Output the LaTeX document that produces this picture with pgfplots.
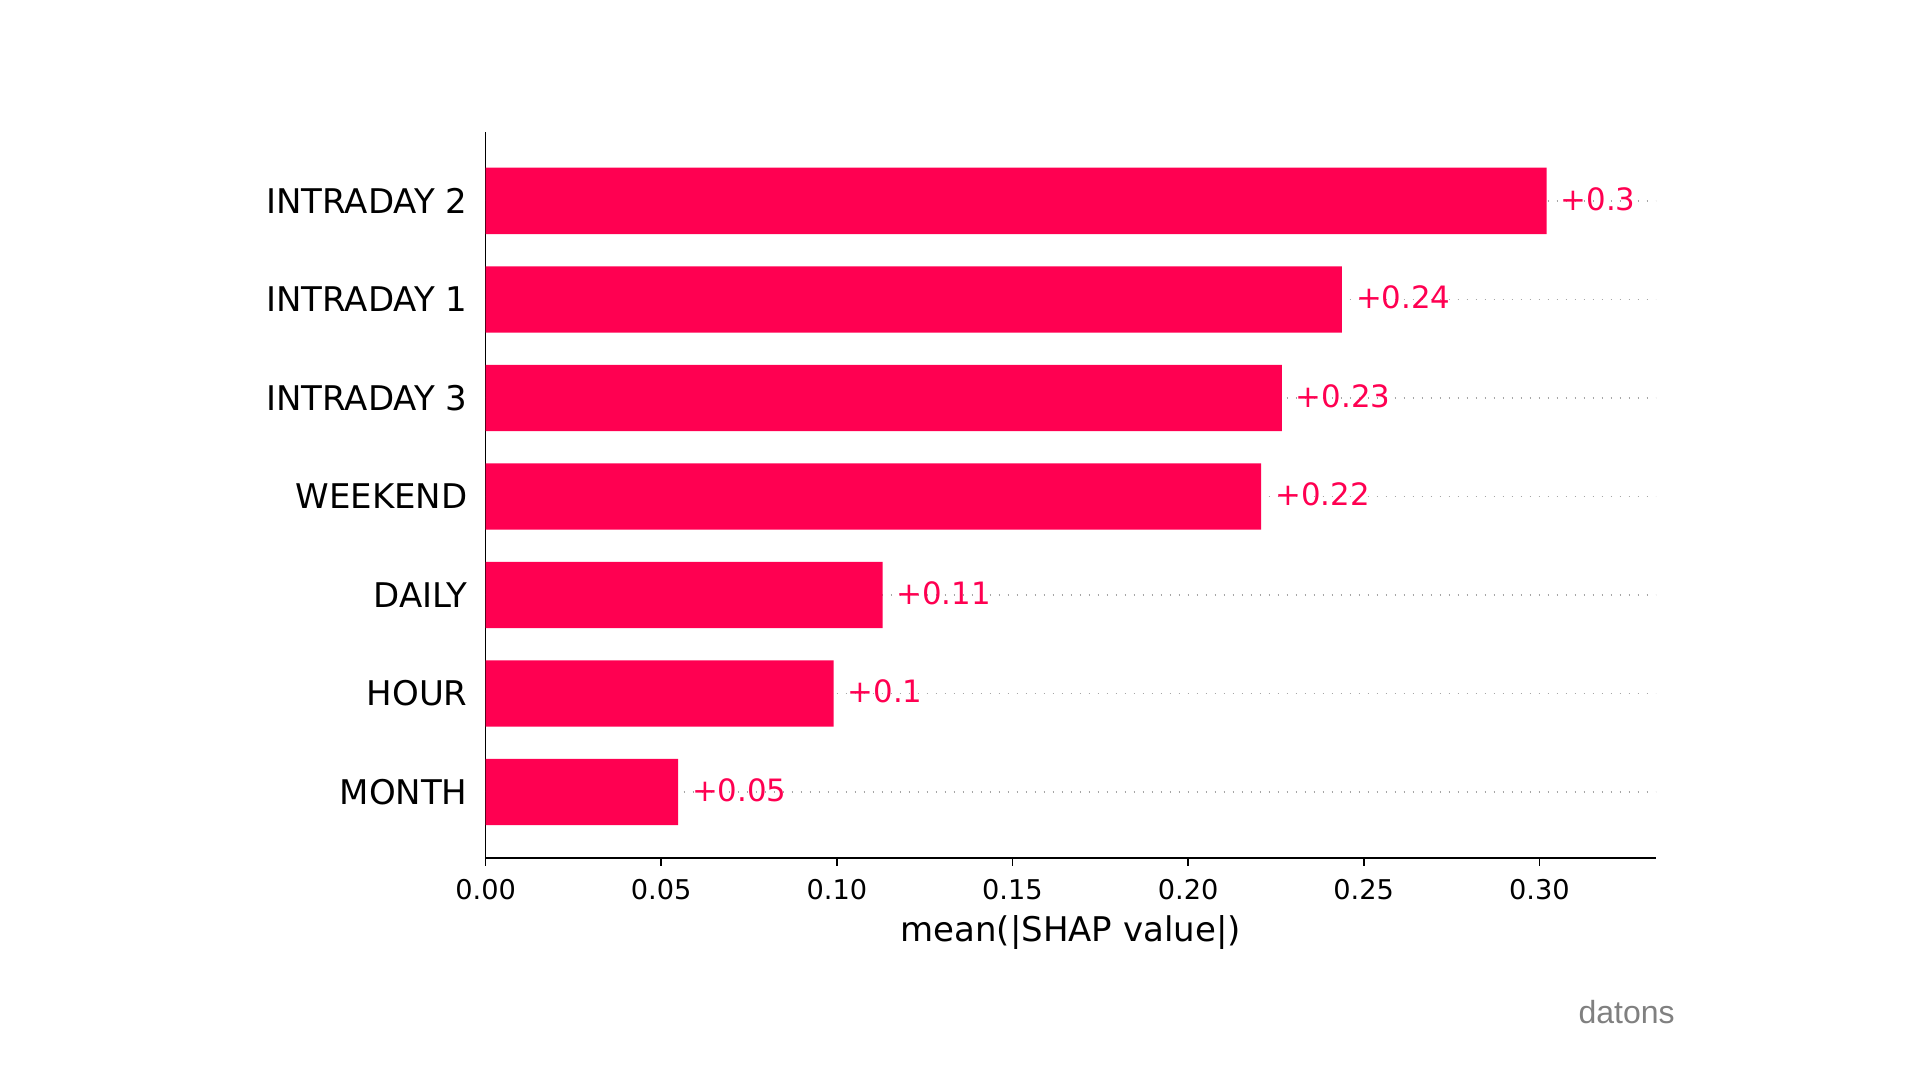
\documentclass[border=0pt]{standalone}
\usepackage{pgfplots}
\pgfplotsset{compat=1.18}
\usepackage{pgfplotstable}
\usepackage{fontspec}
\setmainfont{DejaVu Sans}
\newfontfamily\wmfont{Liberation Sans}
\definecolor{shapred}{HTML}{FF0051}

% mean(|SHAP|) per feature, row 0 = bottom bar
\pgfplotstableread{
pos val label
0 0.0548 {+0.05}
1 0.0991 {+0.1}
2 0.1130 {+0.11}
3 0.2208 {+0.22}
4 0.2267 {+0.23}
5 0.2438 {+0.24}
6 0.3021 {+0.3}
}\shapdata

\begin{document}
\begin{tikzpicture}
\path[use as bounding box] (-242.8pt,-111pt) rectangle (717.2pt,429pt);
\begin{axis}[
  at={(0,0)}, anchor=south west,
  scale only axis,
  width=585pt, height=363pt,
  xmin=0, xmax=0.3331,
  ymin=-0.67, ymax=6.70,
  axis x line*=bottom,
  axis y line*=left,
  axis line style={line width=0.9pt, black},
  xtick={0,0.05,...,0.30},
  xticklabel style={font=\fontsize{13.6}{16}\selectfont, yshift=-3pt},
  /pgf/number format/.cd, fixed, fixed zerofill, precision=2, assume math mode=true, /pgfplots/.cd,
  tick align=outside,
  major tick length=4pt,
  every tick/.style={black, line width=0.8pt},
  ytick={0,...,6},
  yticklabels={MONTH,HOUR,DAILY,WEEKEND,INTRADAY 3,INTRADAY 1,INTRADAY 2},
  yticklabel style={font=\fontsize{17}{20}\selectfont, xshift=-1.5pt},
  ytick style={draw=none},
  xlabel={mean(|SHAP value|)},
  xlabel style={font=\fontsize{17}{20}\selectfont, yshift=-1pt},
  clip=false,
]
% dotted guide lines behind the bars
\pgfplotsinvokeforeach{0,...,6}{
  \addplot[gray!70, line width=0.7pt, dash pattern=on 0.7pt off 3.8pt, forget plot]
    coordinates {(0,#1) (0.3331,#1)};
}
\addplot[xbar, bar width=33.2pt, fill=shapred, draw=none,
  nodes near coords,
  point meta=explicit symbolic,
  every node near coord/.style={anchor=west, xshift=3.5pt, yshift=1pt, text=shapred,
    font=\fontsize{15.4}{18}\selectfont},
] table[x=val, y=pos, meta=label] {\shapdata};
\end{axis}
\node[anchor=center, text=gray, font=\wmfont\fontsize{16}{19}\selectfont]
  at (570.5pt,-77pt) {datons};
\end{tikzpicture}
\end{document}
